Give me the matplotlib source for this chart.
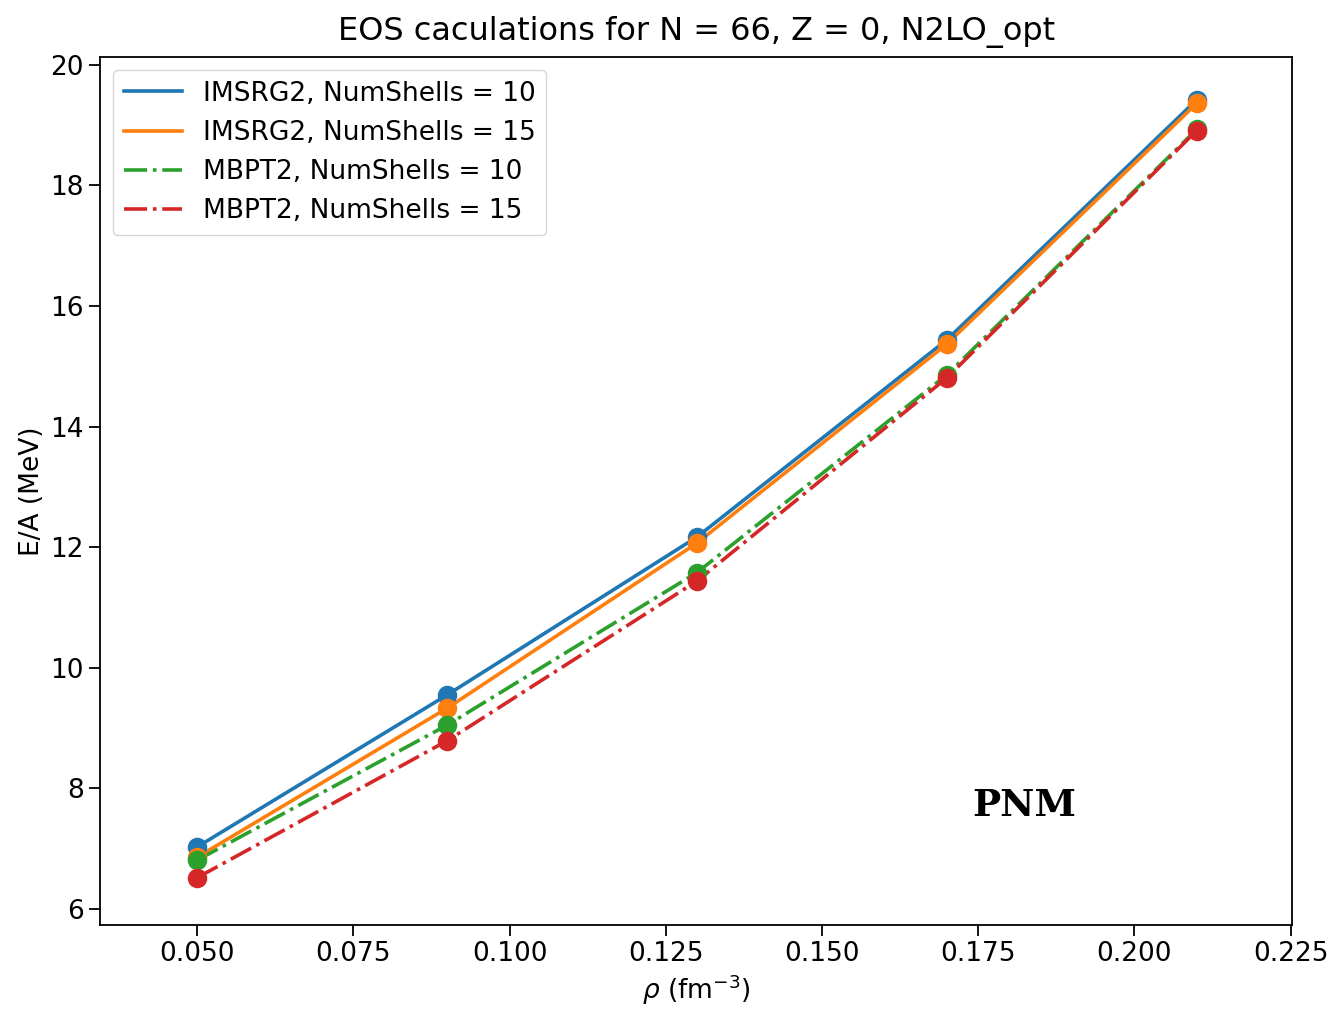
import matplotlib
matplotlib.use("Agg")
import matplotlib.pyplot as plt

rho = [0.05, 0.09, 0.13, 0.17, 0.21]
imsrg_10 = [7.03, 9.55, 12.17, 15.44, 19.42]
imsrg_15 = [6.86, 9.33, 12.07, 15.37, 19.36]
mbpt_10 = [6.81, 9.05, 11.58, 14.86, 18.93]
mbpt_15 = [6.52, 8.79, 11.44, 14.81, 18.91]

series = [
    ("IMSRG2, NumShells = 10", imsrg_10, "#1f77b4", "-"),
    ("IMSRG2, NumShells = 15", imsrg_15, "#ff7f0e", "-"),
    ("MBPT2, NumShells = 10", mbpt_10, "#2ca02c", "-."),
    ("MBPT2, NumShells = 15", mbpt_15, "#d62728", "-."),
]

fig = plt.figure(figsize=(13.31, 10.17), dpi=100)
ax = fig.add_axes([0.075, 0.0905, 0.896, 0.8535])

for label, vals, color, ls in series:
    ax.plot(rho, vals, ls, color=color, lw=2.6, label=label)
    ax.scatter(rho, vals, color=color, s=170, zorder=3)

ax.set_xlim(0.0344, 0.2253)
ax.set_ylim(5.735, 20.13)
ax.set_xticks([0.05, 0.075, 0.1, 0.125, 0.15, 0.175, 0.2, 0.225])
ax.set_xticklabels(["0.050", "0.075", "0.100", "0.125", "0.150", "0.175", "0.200", "0.225"])
ax.set_yticks([6, 8, 10, 12, 14, 16, 18, 20])
ax.tick_params(labelsize=19, length=8, width=1.3)
for s in ax.spines.values():
    s.set_linewidth(1.3)

ax.set_xlabel(r"$\rho$ (fm$^{-3}$)", fontsize=19)
ax.set_ylabel("E/A (MeV)", fontsize=19)
ax.set_title("EOS caculations for N = 66, Z = 0, N2LO_opt", fontsize=23, pad=12)
ax.legend(loc="upper left", fontsize=19, handlelength=2.2)
ax.text(0.1824, 7.72, "PNM", fontsize=27, fontweight="bold", family="DejaVu Serif",
        ha="center", va="center")

fig.savefig("out.png", dpi=100)
